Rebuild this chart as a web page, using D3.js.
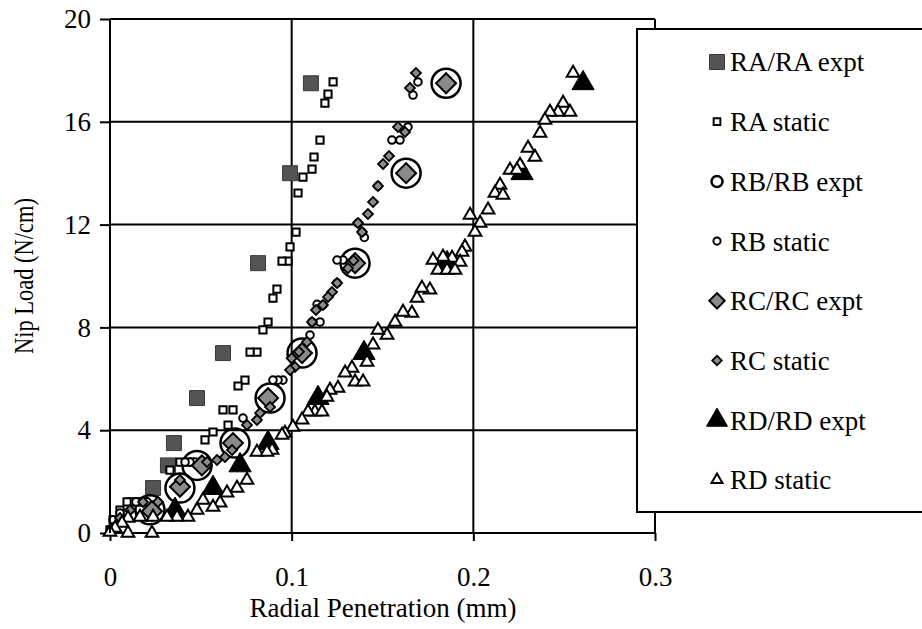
<!DOCTYPE html>
<html>
<head>
<meta charset="utf-8">
<script src="https://cdn.jsdelivr.net/npm/d3@7"></script>
<style>
  html, body { margin: 0; padding: 0; background: #fff; }
  svg { display: block; }
  text { font-family: "Times New Roman", "Liberation Serif", "DejaVu Serif", serif; fill: #000; }
</style>
</head>
<body>
<svg id="chart" width="922" height="629"></svg>
<script>
// ---------------- DATA ----------------
const xTicks = [0, 0.1, 0.2, 0.3];
const xTickLabels = ["0", "0.1", "0.2", "0.3"];
const yTicks = [0, 4, 8, 12, 16, 20];
const yTickLabels = ["0", "4", "8", "12", "16", "20"];
const xTitle = "Radial Penetration (mm)";
const yTitle = "Nip Load (N/cm)";
const seriesNames = ["RA/RA expt", "RA static", "RB/RB expt", "RB static",
                     "RC/RC expt", "RC static", "RD/RD expt", "RD static"];

const raExpt = [[0.0237,1.75],[0.0319,2.63],[0.0352,3.5],[0.0479,5.25],[0.0622,7.0],
                [0.0815,10.5],[0.0991,14.0],[0.1106,17.5]];
const raStatic = [[0.1228,17.55],[0.1200,17.08],[0.1183,16.73],[0.1156,15.29],[0.1123,14.63],
  [0.1112,14.16],[0.1062,13.85],[0.1035,13.23],[0.1024,11.71],[0.0991,11.13],[0.0980,10.58],
  [0.0947,10.58],[0.0919,9.49],[0.0897,9.14],[0.0870,8.21],[0.0842,7.90],[0.0809,7.04],
  [0.0771,7.04],[0.0743,5.95],[0.0705,5.72],[0.0677,4.79],[0.0622,4.79],[0.0650,4.20],
  [0.0567,3.93],[0.0523,3.62],[0.0440,2.76],[0.0385,2.76],[0.0330,2.45],[0.0176,1.21],
  [0.0149,1.21],[0.0121,1.21],[0.0094,1.21],[0.0055,0.89],[0.0017,0.51],[0.0000,0.12]];
const rbExpt = [[0.022,0.9],[0.0385,1.75],[0.0479,2.63],[0.0688,3.5],[0.0881,5.25],
                [0.1057,7.0],[0.1349,10.5],[0.1630,14.0],[0.1850,17.5]];
const rbStatic = [[0.1695,17.55],[0.1668,17.04],[0.1640,15.80],[0.1596,15.29],[0.1552,15.29],
  [0.1475,13.50],[0.1365,12.06],[0.1400,11.50],[0.1387,11.71],[0.1283,10.62],[0.1250,10.62],
  [0.1250,9.73],[0.1172,8.87],[0.1140,8.90],[0.1156,8.21],[0.1112,8.21],[0.1101,7.70],
  [0.0952,5.95],[0.0925,5.95],[0.0897,5.95],[0.0732,4.47],[0.0495,2.76],[0.0468,2.76],
  [0.0440,2.76],[0.0413,2.76],[0.0204,1.21],[0.0143,1.21],[0.0055,0.78],[0.0017,0.51]];
const rcExpt = [[0.0231,0.85],[0.0385,1.80],[0.0506,2.63],[0.0677,3.5],[0.0870,5.25],
                [0.1057,7.0],[0.1349,10.5],[0.1630,14.0],[0.1850,17.5]];
const rcStatic = [[0.1684,17.90],[0.1651,17.32],[0.1585,15.80],[0.1624,15.60],[0.1536,14.67],
  [0.1503,14.36],[0.1475,13.50],[0.1448,12.88],[0.1420,12.41],[0.1365,12.06],[0.1387,11.71],
  [0.1340,10.60],[0.1310,10.30],[0.1250,9.73],[0.1222,9.38],[0.1200,9.18],[0.1172,8.87],
  [0.1134,8.68],[0.1112,8.21],[0.1084,7.43],[0.1040,7.05],[0.1000,6.80],[0.1018,6.46],
  [0.0991,6.34],[0.0881,4.90],[0.0826,4.67],[0.0809,4.40],[0.0754,4.20],[0.0672,3.23],
  [0.0633,2.96],[0.0589,2.84],[0.0534,2.76],[0.0385,2.06],[0.0264,1.21],[0.0182,1.21],
  [0.0110,0.89],[0.0055,0.58],[0.0011,0.19]];
const rdExpt = [[0.0358,0.9],[0.0567,1.75],[0.0716,2.63],[0.0870,3.5],[0.1145,5.25],
                [0.1398,7.0],[0.1855,10.5],[0.2268,14.0],[0.2604,17.5]];
const rdStatic = [[0.2549,17.90],[0.2494,16.73],[0.2532,16.38],[0.2466,16.38],[0.2422,16.38],
  [0.2394,16.07],[0.2367,15.56],[0.2301,14.98],[0.2339,14.63],[0.2257,14.32],[0.2202,14.12],
  [0.2240,14.12],[0.2147,13.54],[0.2119,13.23],[0.2163,13.15],[0.2081,12.57],[0.1982,12.37],
  [0.2037,12.06],[0.2009,11.71],[0.1954,11.13],[0.1938,10.93],[0.1883,10.70],[0.1833,10.74],
  [0.1778,10.62],[0.1927,10.54],[0.1805,10.23],[0.1855,10.23],[0.1899,10.23],[0.1761,9.46],
  [0.1717,9.53],[0.1690,9.14],[0.1662,8.56],[0.1613,8.60],[0.1569,8.21],[0.1525,7.70],
  [0.1475,7.90],[0.1448,7.32],[0.1415,6.65],[0.1332,6.42],[0.1294,6.23],[0.1349,5.88],
  [0.1393,5.88],[0.1255,5.64],[0.1211,5.56],[0.1194,5.29],[0.1128,4.71],[0.1090,4.71],
  [0.1167,4.71],[0.1057,4.40],[0.1007,4.12],[0.0963,3.89],[0.0947,3.81],[0.0892,3.23],
  [0.0809,3.15],[0.0864,3.15],[0.0754,2.06],[0.0699,1.75],[0.0644,1.56],[0.0606,1.17],
  [0.0512,1.28],[0.0567,1.01],[0.0479,0.89],[0.0429,0.62],[0.0369,0.62],[0.0314,0.62],
  [0.0237,0.62],[0.0165,0.62],[0.0099,0.58],[0.0066,0.39],[0.0028,0.19],[0.0000,0.04],
  [0.0231,0.00],[0.0099,0.00]];

// ---------------- CHART ----------------
const SERIF = '"Times New Roman", "Liberation Serif", "DejaVu Serif", serif';
const svg = d3.select("#chart");
const x = d3.scaleLinear().domain([0, 0.3]).range([110, 655]);
const y = d3.scaleLinear().domain([0, 20]).range([533, 19]);
const FONT = 27;

// gridlines
const grid = svg.append("g").attr("stroke", "#000").attr("stroke-width", 2);
grid.selectAll(".gy").data(yTicks).join("line")
  .attr("x1", x(0)).attr("x2", x(0.3)).attr("y1", d => y(d)).attr("y2", d => y(d));
grid.selectAll(".gx").data(xTicks).join("line")
  .attr("x1", d => x(d)).attr("x2", d => x(d)).attr("y1", y(0)).attr("y2", y(20));

// axes
const xAxis = svg.append("g").attr("transform", `translate(0,${y(0)})`)
  .call(d3.axisBottom(x).tickValues(xTicks).tickFormat((d, i) => xTickLabels[i])
        .tickSize(8).tickPadding(26));
const yAxis = svg.append("g").attr("transform", `translate(${x(0)},0)`)
  .call(d3.axisLeft(y).tickValues(yTicks).tickFormat((d, i) => yTickLabels[i])
        .tickSize(10).tickPadding(9));
[xAxis, yAxis].forEach(a => {
  a.attr("font-family", SERIF).attr("font-size", FONT);
  a.select(".domain").remove();
  a.selectAll(".tick line").attr("stroke", "#000").attr("stroke-width", 2);
  a.selectAll(".tick text").style("font-family", SERIF)
    .style("font-size", FONT + "px").attr("fill", "#000");
});

// symbols
const sq = d3.symbol().type(d3.symbolSquare);
const tri = d3.symbol().type(d3.symbolTriangle);
const styles = [
  {type: "square", size: 225, fill: "#545454", stroke: "#3a3a3a", sw: 1, rot: 0},
  {type: "square", size: 52, fill: "#fff", stroke: "#000", sw: 2, rot: 0},
  {type: "circle", r: 14.5, fill: "none", stroke: "#000", sw: 2.5},
  {type: "circle", r: 3.8, fill: "#fff", stroke: "#000", sw: 2},
  {type: "square", size: 200, fill: "#8a8a8a", stroke: "#000", sw: 2, rot: 45},
  {type: "square", size: 50, fill: "#8a8a8a", stroke: "#000", sw: 1.8, rot: 45},
  {type: "tri", size: 215, fill: "#000", stroke: "#000", sw: 1},
  {type: "tri", size: 70, fill: "#fff", stroke: "#000", sw: 2}
];
const legendStyles = [
  {type: "square", size: 225, fill: "#545454", stroke: "#3a3a3a", sw: 1, rot: 0},
  {type: "square", size: 45, fill: "#fff", stroke: "#000", sw: 2, rot: 0},
  {type: "circle", r: 5.5, fill: "#fff", stroke: "#000", sw: 2.5},
  {type: "circle", r: 3.6, fill: "#fff", stroke: "#000", sw: 2},
  {type: "square", size: 120, fill: "#8a8a8a", stroke: "#000", sw: 2, rot: 45},
  {type: "square", size: 45, fill: "#8a8a8a", stroke: "#000", sw: 1.8, rot: 45},
  {type: "tri", size: 190, fill: "#000", stroke: "#000", sw: 1},
  {type: "tri", size: 52, fill: "#fff", stroke: "#000", sw: 2}
];

function drawMarker(g, st, cx, cy) {
  if (st.type === "circle") {
    g.append("circle").attr("cx", cx).attr("cy", cy).attr("r", st.r)
      .attr("fill", st.fill).attr("stroke", st.stroke).attr("stroke-width", st.sw);
  } else {
    const gen = st.type === "tri" ? tri : sq;
    g.append("path").attr("d", gen.size(st.size)())
      .attr("transform", `translate(${cx},${cy}) rotate(${st.rot || 0})`)
      .attr("fill", st.fill).attr("stroke", st.stroke).attr("stroke-width", st.sw);
  }
}

const allSeries = [raExpt, raStatic, rbExpt, rbStatic, rcExpt, rcStatic, rdExpt, rdStatic];
const marks = svg.append("g");
allSeries.forEach((data, i) => {
  const g = marks.append("g");
  data.forEach(d => drawMarker(g, styles[i], x(d[0]), y(d[1])));
});

// frame (top and left)
svg.append("line").attr("x1", x(0)).attr("x2", x(0.3)).attr("y1", y(20)).attr("y2", y(20))
  .attr("stroke", "#000").attr("stroke-width", 2);
svg.append("line").attr("x1", x(0)).attr("x2", x(0)).attr("y1", y(20)).attr("y2", y(0))
  .attr("stroke", "#000").attr("stroke-width", 2);

// legend
const lg = svg.append("g");
lg.append("rect").attr("x", 637).attr("y", 29).attr("width", 300).attr("height", 483)
  .attr("fill", "#fff").attr("stroke", "#000").attr("stroke-width", 2);
seriesNames.forEach((name, i) => {
  const cy = 62 + i * 59.7;
  drawMarker(lg, legendStyles[i], 717, cy);
  lg.append("text").attr("x", 730).attr("y", cy).attr("dy", "0.35em")
    .style("font-family", SERIF).style("font-size", FONT + "px").text(name);
});

// titles
svg.append("text").attr("x", 383).attr("y", 617).attr("text-anchor", "middle")
  .style("font-family", SERIF).style("font-size", FONT + "px").text(xTitle);
svg.append("text").attr("transform", "translate(33,276) rotate(-90)")
  .attr("text-anchor", "middle").style("font-family", SERIF).style("font-size", FONT + "px")
  .attr("textLength", 156).attr("lengthAdjust", "spacingAndGlyphs").text(yTitle);
</script>
</body>
</html>
